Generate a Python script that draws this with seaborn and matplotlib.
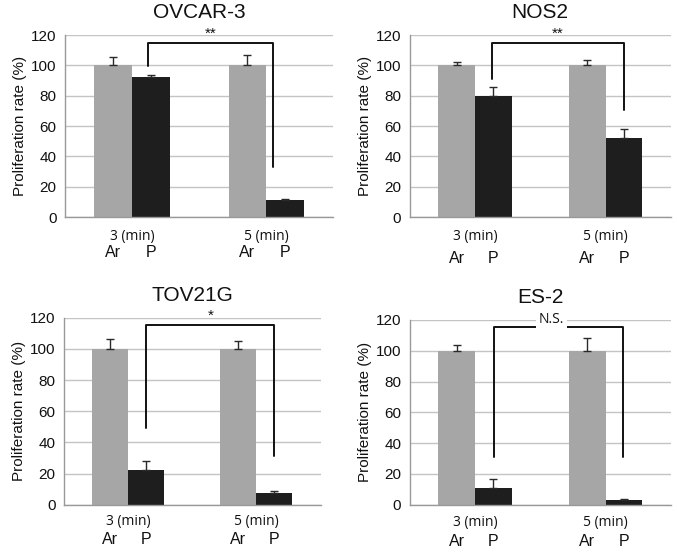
import matplotlib
matplotlib.use("Agg")
import matplotlib.pyplot as plt
import matplotlib.transforms as mtransforms
import pandas as pd
import seaborn as sns

sns.set_style("white")
plt.rcParams['font.family'] = ['Liberation Sans', 'DejaVu Sans']

# data
titles = ['OVCAR-3', 'NOS2', 'TOV21G', 'ES-2']
times = ['3 (min)', '5 (min)']
groups = ['Ar', 'P']
ar_mean = [[100, 100], [100, 100], [100, 100], [100, 100]]
ar_err = [[5.5, 6.5], [2, 3.5], [6.5, 5], [3.5, 8.5]]
p_mean = [[92, 11], [80, 52], [22, 7.5], [11, 3]]
p_err = [[1.5, 1], [5.5, 6], [6, 1], [6, 0.5]]
sig_labels = ['**', '**', '*', 'N.S.']
bracket_x = [[0.12, 1.05], [0.13, 1.14], [0.14, 1.14], [0.145, 1.13]]
bracket_low = [[99.5, 33], [91, 70.5], [49, 31.5], [31, 31]]
bracket_top = [114.5, 114.5, 115.3, 115.7]

# axes boxes in figure fractions [left, bottom, width, height]
boxes = [
    [0.096, 0.6083, 0.396, 0.3285],
    [0.605, 0.6083, 0.386, 0.3285],
    [0.0945, 0.089, 0.379, 0.3375],
    [0.605, 0.089, 0.386, 0.3334],
]
# pixel offsets below the axis: (time label centre, group letters centre)
label_off = [(19, 35), (19, 41), (17, 35), (18, 37)]

palette = {'Ar': '#a6a6a6', 'P': '#1e1e1e'}
grid_col = '#c4c4c4'

fig = plt.figure(figsize=(6.77, 5.54), dpi=100)

for i, title in enumerate(titles):
    ax = fig.add_axes(boxes[i])
    df = pd.DataFrame({
        'time': times * 2,
        'group': ['Ar', 'Ar', 'P', 'P'],
        'rate': ar_mean[i] + p_mean[i],
        'err': ar_err[i] + p_err[i],
    })
    sns.barplot(data=df, x='time', y='rate', hue='group', order=times,
                hue_order=groups, palette=palette, width=0.56, gap=0,
                errorbar=None, legend=False, linewidth=0, ax=ax)

    # positive error bars on top of each bar
    for cont, g in zip(ax.containers, groups):
        sub = df[df['group'] == g]
        xs = [b.get_x() + b.get_width() / 2 for b in cont]
        ax.errorbar(xs, sub['rate'], yerr=[[0] * len(xs), sub['err']],
                    fmt='none', ecolor='#2a2a2a', elinewidth=1,
                    capsize=3, capthick=1, zorder=3)
        # group letters under bars
        trans = mtransforms.offset_copy(ax.get_xaxis_transform(), fig=fig,
                                        x=0, y=-label_off[i][1], units='dots')
        for x in xs:
            ax.text(x, 0, g, transform=trans, ha='center', va='center',
                    fontsize=11.5, color='#111111')

    ax.set_ylim(0, 120)
    ax.set_xlim(-0.5, 1.5)
    ax.set_yticks(range(0, 121, 20))
    ax.yaxis.grid(True, color=grid_col, linewidth=1)
    ax.set_axisbelow(True)
    ax.set_xlabel('')
    ax.set_ylabel('Proliferation rate (%)', fontsize=11, color='#111111',
                  labelpad=3)
    ax.set_title(title, fontsize=15, color='#111111', pad=12)

    # time labels centred on each category
    trans_t = mtransforms.offset_copy(ax.get_xaxis_transform(), fig=fig,
                                      x=0, y=-label_off[i][0], units='dots')
    ax.set_xticks([0, 1])
    ax.set_xticklabels([])
    for k, t in enumerate(times):
        ax.text(k, 0, t, transform=trans_t, ha='center', va='center',
                fontsize=10, color='#111111',
                family=['Open Sans', 'DejaVu Sans'])
    ax.tick_params(axis='x', length=0)
    ax.set_xticks([-0.5, 0.5, 1.5], minor=True)
    ax.tick_params(axis='x', which='minor', length=4, color='#999999',
                   width=1)
    ax.tick_params(axis='y', length=4, color='#999999', labelsize=11,
                   labelcolor='#111111', pad=2)

    for side in ['top', 'right']:
        ax.spines[side].set_visible(False)
    for side in ['left', 'bottom']:
        ax.spines[side].set_color('#999999')
        ax.spines[side].set_linewidth(1)

    # significance bracket
    xl, xr = bracket_x[i]
    yl, yr = bracket_low[i]
    yt = bracket_top[i]
    ax.plot([xl, xl, xr, xr], [yl, yt, yt, yr], color='#111111',
            linewidth=1.4, clip_on=False, zorder=4)
    if sig_labels[i] == 'N.S.':
        ax.text((xl + xr) / 2 - 0.05, 120.5, sig_labels[i], ha='center',
                va='center', fontsize=10, color='#111111',
                family=['Open Sans', 'DejaVu Sans'], clip_on=False,
                bbox=dict(facecolor='white', edgecolor='none', pad=2),
                zorder=5)
    else:
        ax.text((xl + xr) / 2, 121, sig_labels[i], ha='center',
                va='center', fontsize=11, color='#111111', clip_on=False)

fig.savefig('out.png', dpi=100)
